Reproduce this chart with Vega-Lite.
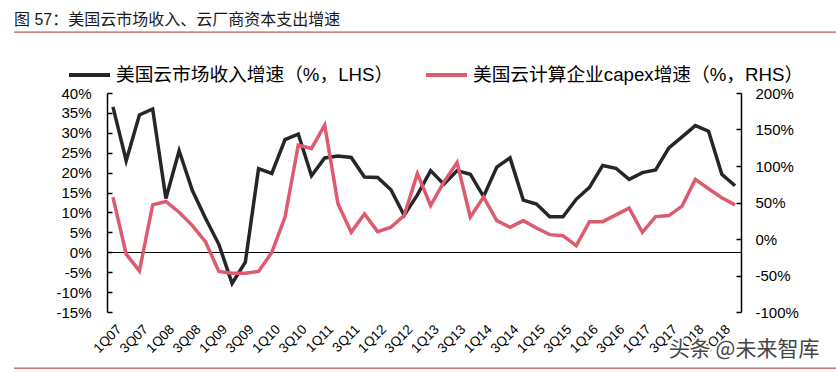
{
  "$schema": "https://vega.github.io/schema/vega-lite/v6.json",
  "autosize": {"type": "none"},
  "width": 822,
  "height": 219,
  "padding": {"left": 14, "top": 93, "right": 0, "bottom": 60},
  "background": "white",
  "config": {"view": {"stroke": null}, "font": "Liberation Sans, Noto Sans CJK SC"},
  "title": {
    "text": "图 57：美国云市场收入、云厂商资本支出增速",
    "anchor": "start",
    "frame": "group",
    "fontSize": 16,
    "fontWeight": "normal",
    "font": "Liberation Sans, Noto Sans CJK SC",
    "color": "#1a1a1a",
    "offset": 4
  },
  "data": {
    "values": [
      {"q": "1Q07", "market": 36.5, "capex": 57.4},
      {"q": "2Q07", "market": 23.0, "capex": -20.7},
      {"q": "3Q07", "market": 34.5, "capex": -43.6},
      {"q": "4Q07", "market": 36.0, "capex": 46.8},
      {"q": "1Q08", "market": 13.5, "capex": 51.4},
      {"q": "2Q08", "market": 25.5, "capex": 36.7},
      {"q": "3Q08", "market": 15.5, "capex": 18.3},
      {"q": "4Q08", "market": 8.5, "capex": -4.0},
      {"q": "1Q09", "market": 2.0, "capex": -44.5},
      {"q": "2Q09", "market": -7.8, "capex": -46.8},
      {"q": "3Q09", "market": -2.5, "capex": -46.8},
      {"q": "4Q09", "market": 21.0, "capex": -44.5},
      {"q": "1Q10", "market": 19.8, "capex": -18.4},
      {"q": "2Q10", "market": 28.3, "capex": 30.0},
      {"q": "3Q10", "market": 29.7, "capex": 128.5},
      {"q": "4Q10", "market": 19.2, "capex": 124.0},
      {"q": "1Q11", "market": 23.7, "capex": 156.0},
      {"q": "2Q11", "market": 24.2, "capex": 48.2},
      {"q": "3Q11", "market": 23.8, "capex": 9.2},
      {"q": "4Q11", "market": 18.9, "capex": 34.4},
      {"q": "1Q12", "market": 18.8, "capex": 10.1},
      {"q": "2Q12", "market": 15.7, "capex": 16.1},
      {"q": "3Q12", "market": 9.3, "capex": 32.1},
      {"q": "4Q12", "market": 14.4, "capex": 89.5},
      {"q": "1Q13", "market": 20.5, "capex": 45.9},
      {"q": "2Q13", "market": 17.1, "capex": 78.0},
      {"q": "3Q13", "market": 20.5, "capex": 104.7},
      {"q": "4Q13", "market": 19.6, "capex": 29.9},
      {"q": "1Q14", "market": 14.0, "capex": 57.4},
      {"q": "2Q14", "market": 21.4, "capex": 25.2},
      {"q": "3Q14", "market": 23.7, "capex": 16.1},
      {"q": "4Q14", "market": 13.1, "capex": 25.2},
      {"q": "1Q15", "market": 12.1, "capex": 15.1},
      {"q": "2Q15", "market": 8.9, "capex": 6.0},
      {"q": "3Q15", "market": 8.9, "capex": 4.6},
      {"q": "4Q15", "market": 13.3, "capex": -9.2},
      {"q": "1Q16", "market": 16.3, "capex": 23.8},
      {"q": "2Q16", "market": 21.8, "capex": 23.8},
      {"q": "3Q16", "market": 21.1, "capex": 33.0},
      {"q": "4Q16", "market": 18.3, "capex": 42.3},
      {"q": "1Q17", "market": 20.0, "capex": 9.2},
      {"q": "2Q17", "market": 20.7, "capex": 30.7},
      {"q": "3Q17", "market": 26.2, "capex": 32.1},
      {"q": "4Q17", "market": 29.0, "capex": 45.0},
      {"q": "1Q18", "market": 31.8, "capex": 81.7},
      {"q": "2Q18", "market": 30.4, "capex": 68.9},
      {"q": "3Q18", "market": 19.6, "capex": 56.5},
      {"q": "4Q18", "market": 16.7, "capex": 46.8}
    ]
  },
  "layer": [
    {
      "mark": {"type": "line", "strokeWidth": 3.5},
      "encoding": {
        "x": {
          "field": "q", "type": "ordinal",
          "scale": {"type": "point", "domain": ["1Q07","2Q07","3Q07","4Q07","1Q08","2Q08","3Q08","4Q08","1Q09","2Q09","3Q09","4Q09","1Q10","2Q10","3Q10","4Q10","1Q11","2Q11","3Q11","4Q11","1Q12","2Q12","3Q12","4Q12","1Q13","2Q13","3Q13","4Q13","1Q14","2Q14","3Q14","4Q14","1Q15","2Q15","3Q15","4Q15","1Q16","2Q16","3Q16","4Q16","1Q17","2Q17","3Q17","4Q17","1Q18","2Q18","3Q18","4Q18"], "range": [93, 727], "padding": 0.45},
          "axis": {
            "orient": "bottom", "title": null, "domain": false, "ticks": false,
            "values": ["1Q07","3Q07","1Q08","3Q08","1Q09","3Q09","1Q10","3Q10","1Q11","3Q11","1Q12","3Q12","1Q13","3Q13","1Q14","3Q14","1Q15","3Q15","1Q16","3Q16","1Q17","3Q17","1Q18","3Q18"],
            "labelAngle": -45, "labelFontSize": 13.5, "labelFont": "Liberation Sans", "labelColor": "#000", "labelPadding": 10, "labelOffset": 1
          }
        },
        "y": {
          "field": "market", "type": "quantitative",
          "scale": {"domain": [-15, 40], "nice": false, "zero": false},
          "axis": {
            "orient": "left", "offset": -93, "title": null, "grid": false,
            "values": [-15,-10,-5,0,5,10,15,20,25,30,35,40],
            "labelExpr": "datum.value + '%'",
            "domainColor": "#000", "domainWidth": 1.5, "tickColor": "#000", "tickSize": -5, "tickWidth": 1.5,
            "labelFontSize": 15, "labelFont": "Liberation Sans", "labelColor": "#000", "labelPadding": 21
          }
        },
        "color": {
          "datum": "美国云市场收入增速（%，LHS）",
          "scale": {"domain": ["美国云市场收入增速（%，LHS）", "美国云计算企业capex增速（%，RHS）"], "range": ["#262626", "#de5b6f"]},
          "legend": {
            "orient": "none", "legendX": 53, "legendY": -41, "direction": "horizontal", "title": null,
            "symbolType": "stroke", "symbolSize": 1681, "symbolStrokeWidth": 4,
            "labelFontSize": 18.7, "labelFont": "Liberation Sans, Noto Sans CJK SC", "labelColor": "#000",
            "labelOffset": 4, "labelLimit": 0, "columnPadding": 24
          }
        }
      }
    },
    {
      "mark": {"type": "line", "strokeWidth": 3.5},
      "encoding": {
        "x": {
          "field": "q", "type": "ordinal",
          "scale": {"type": "point", "domain": ["1Q07","2Q07","3Q07","4Q07","1Q08","2Q08","3Q08","4Q08","1Q09","2Q09","3Q09","4Q09","1Q10","2Q10","3Q10","4Q10","1Q11","2Q11","3Q11","4Q11","1Q12","2Q12","3Q12","4Q12","1Q13","2Q13","3Q13","4Q13","1Q14","2Q14","3Q14","4Q14","1Q15","2Q15","3Q15","4Q15","1Q16","2Q16","3Q16","4Q16","1Q17","2Q17","3Q17","4Q17","1Q18","2Q18","3Q18","4Q18"], "range": [93, 727], "padding": 0.45},
          "axis": {"orient": "top", "offset": -159, "title": null, "labels": false, "ticks": false, "domain": true, "domainColor": "#000", "domainWidth": 1}
        },
        "y": {
          "field": "capex", "type": "quantitative",
          "scale": {"domain": [-100, 200], "nice": false, "zero": false},
          "axis": {
            "orient": "right", "offset": -95, "title": null, "grid": false,
            "values": [-100,-50,0,50,100,150,200],
            "labelExpr": "datum.value + '%'",
            "domainColor": "#000", "domainWidth": 1.5, "tickColor": "#000", "tickSize": -5, "tickWidth": 1.5,
            "labelFontSize": 15, "labelFont": "Liberation Sans", "labelColor": "#000", "labelPadding": 19
          }
        },
        "color": {
          "datum": "美国云计算企业capex增速（%，RHS）",
          "scale": {"domain": ["美国云市场收入增速（%，LHS）", "美国云计算企业capex增速（%，RHS）"], "range": ["#262626", "#de5b6f"]}
        }
      }
    },
    {
      "data": {"values": [{}]},
      "mark": {"type": "rule", "color": "#a23232", "strokeWidth": 1},
      "encoding": {
        "y": {"datum": 55.3, "type": "quantitative", "scale": {"domain": [-15, 40], "nice": false, "zero": false}, "axis": null}
      }
    },
    {
      "data": {"values": [{}]},
      "mark": {"type": "rule", "color": "#a23232", "strokeWidth": 1},
      "encoding": {
        "y": {"datum": -29.1, "type": "quantitative", "scale": {"domain": [-15, 40], "nice": false, "zero": false}, "axis": null}
      }
    },
    {
      "data": {"values": [{}]},
      "mark": {"type": "text", "text": "头条 @未来智库", "font": "Noto Sans CJK SC", "fontSize": 21, "align": "left", "baseline": "middle", "fill": "#fff", "stroke": "#fff", "strokeWidth": 4},
      "encoding": {
        "x": {"datum": "3Q17", "type": "ordinal", "scale": {"type": "point", "domain": ["1Q07","2Q07","3Q07","4Q07","1Q08","2Q08","3Q08","4Q08","1Q09","2Q09","3Q09","4Q09","1Q10","2Q10","3Q10","4Q10","1Q11","2Q11","3Q11","4Q11","1Q12","2Q12","3Q12","4Q12","1Q13","2Q13","3Q13","4Q13","1Q14","2Q14","3Q14","4Q14","1Q15","2Q15","3Q15","4Q15","1Q16","2Q16","3Q16","4Q16","1Q17","2Q17","3Q17","4Q17","1Q18","2Q18","3Q18","4Q18"], "range": [93, 727], "padding": 0.45}, "axis": null},
        "y": {"datum": -24.5, "type": "quantitative", "scale": {"domain": [-15, 40], "nice": false, "zero": false}, "axis": null}
      }
    },
    {
      "data": {"values": [{}]},
      "mark": {"type": "text", "text": "头条 @未来智库", "font": "Noto Sans CJK SC", "fontSize": 21, "align": "left", "baseline": "middle", "fill": "#454545"},
      "encoding": {
        "x": {"datum": "3Q17", "type": "ordinal", "scale": {"type": "point", "domain": ["1Q07","2Q07","3Q07","4Q07","1Q08","2Q08","3Q08","4Q08","1Q09","2Q09","3Q09","4Q09","1Q10","2Q10","3Q10","4Q10","1Q11","2Q11","3Q11","4Q11","1Q12","2Q12","3Q12","4Q12","1Q13","2Q13","3Q13","4Q13","1Q14","2Q14","3Q14","4Q14","1Q15","2Q15","3Q15","4Q15","1Q16","2Q16","3Q16","4Q16","1Q17","2Q17","3Q17","4Q17","1Q18","2Q18","3Q18","4Q18"], "range": [93, 727], "padding": 0.45}, "axis": null},
        "y": {"datum": -24.5, "type": "quantitative", "scale": {"domain": [-15, 40], "nice": false, "zero": false}, "axis": null}
      }
    }
  ],
  "resolve": {"scale": {"y": "independent"}, "axis": {"x": "independent"}}
}
